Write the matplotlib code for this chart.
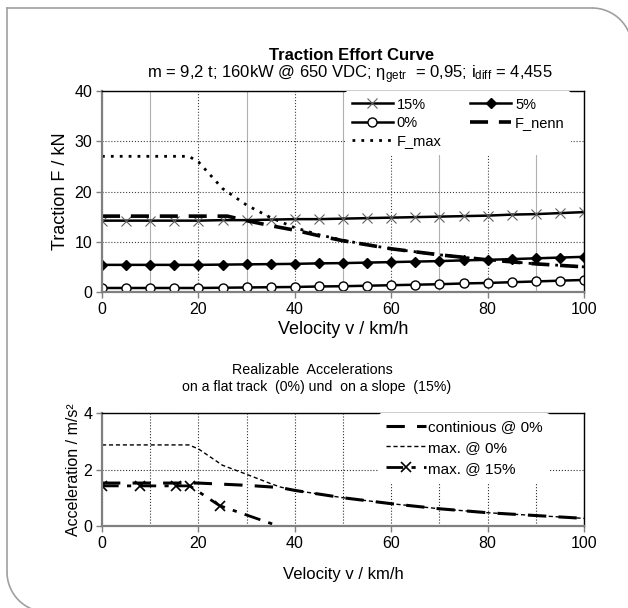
import matplotlib
matplotlib.use("Agg")
import matplotlib.pyplot as plt
from matplotlib.patches import Arc
from matplotlib.ticker import MultipleLocator

plt.rcParams['font.family'] = ['Liberation Sans', 'DejaVu Sans']
plt.rcParams['mathtext.fontset'] = 'custom'
plt.rcParams['mathtext.rm'] = 'Liberation Sans'
plt.rcParams['mathtext.it'] = 'Liberation Sans:italic'
plt.rcParams['mathtext.bf'] = 'Liberation Sans:bold'

# --- traction effort data (kN) ---
v_grade = [0, 5, 10, 15, 20, 25, 30, 35, 40, 45, 50, 55, 60, 65, 70, 75, 80, 85, 90, 95, 100]
f_15 = [14.2, 14.2, 14.2, 14.2, 14.2, 14.3, 14.3, 14.4, 14.5, 14.5, 14.6, 14.7, 14.8, 14.9,
        15.0, 15.1, 15.2, 15.4, 15.5, 15.7, 15.9]
f_5 = [5.4, 5.4, 5.4, 5.4, 5.4, 5.45, 5.5, 5.55, 5.6, 5.7, 5.75, 5.85, 5.95, 6.05,
       6.15, 6.3, 6.4, 6.55, 6.7, 6.85, 7.0]
f_0 = [0.8, 0.8, 0.8, 0.8, 0.8, 0.85, 0.9, 0.95, 1.0, 1.1, 1.15, 1.25, 1.35, 1.45,
       1.55, 1.7, 1.8, 1.95, 2.1, 2.25, 2.4]

v_nenn = [0, 26, 30, 35, 40, 45, 50, 55, 60, 65, 70, 75, 80, 85, 90, 95, 100]
f_nenn = [15.1, 15.1, 14.2, 13.2, 12.3, 11.2, 10.2, 9.4, 8.6, 8.0, 7.4, 6.9, 6.4, 6.0, 5.6, 5.3, 5.0]

v_max = [0, 18, 20, 25, 30, 35, 40, 45, 50, 55, 60, 65, 70, 75, 80, 85, 90, 95, 100]
f_max = [27, 27, 25.9, 20.6, 17.3, 14.8, 12.8, 11.4, 10.3, 9.4, 8.6, 8.0, 7.4, 6.9, 6.4, 6.0, 5.6, 5.3, 5.0]

# --- acceleration data (m/s^2) ---
v_cont = [0, 20, 30, 37, 40, 50, 60, 70, 80, 90, 100]
a_cont = [1.52, 1.52, 1.44, 1.36, 1.26, 1.0, 0.79, 0.61, 0.47, 0.37, 0.27]

v_amax0 = [0, 18, 20, 25, 30, 35, 37, 40, 50, 60, 70, 80, 90, 100]
a_max0 = [2.87, 2.87, 2.73, 2.15, 1.83, 1.5, 1.38, 1.26, 1.0, 0.79, 0.61, 0.47, 0.37, 0.27]

v_amax15 = [0, 7.8, 15.4, 18.2, 24.4, 42]
a_max15 = [1.42, 1.42, 1.42, 1.42, 0.72, -0.32]

W, H = 628, 608
fig = plt.figure(figsize=(W / 100, H / 100), dpi=100)

# background frame drawn on a full-figure pixel canvas
bg = fig.add_axes([0, 0, 1, 1])
bg.set_xlim(0, W)
bg.set_ylim(H, 0)
bg.axis('off')
r = 40
xl, yt, xr, yb = 7, 8, 632, 612
frame_kw = dict(color='#a0a0a0', lw=1.2)
bg.plot([xl, xr - r], [yt, yt], **frame_kw)
bg.plot([xl, xl], [yt, yb - r], **frame_kw)
bg.add_patch(Arc((xr - r, yt + r), 2 * r, 2 * r, theta1=270, theta2=360, edgecolor='#a0a0a0', lw=1.2))
bg.add_patch(Arc((xl + r, yb - r), 2 * r, 2 * r, theta1=90, theta2=180, edgecolor='#a0a0a0', lw=1.2))


def ax_rect(l, t, r, b):
    return [l / W, 1 - b / H, (r - l) / W, (b - t) / H]


def style_axes(ax):
    for s in ['top', 'right']:
        ax.spines[s].set_color('black')
        ax.spines[s].set_linewidth(1.0)
    for s in ['left', 'bottom']:
        ax.spines[s].set_color('#808080')
        ax.spines[s].set_linewidth(1.6)
    ax.tick_params(direction='out', length=4, width=1, color='#808080', labelsize=11.5, pad=3)
    ax.set_xlim(0, 100)
    ax.xaxis.set_major_locator(MultipleLocator(20))


def white_legend(leg):
    fr = leg.get_frame()
    fr.set_facecolor('white')
    fr.set_edgecolor('none')
    fr.set_alpha(1)


# top chart
ax1 = fig.add_axes(ax_rect(102, 91, 584, 292))
style_axes(ax1)
ax1.set_ylim(0, 40)
ax1.yaxis.set_major_locator(MultipleLocator(10))
ax1.xaxis.set_minor_locator(MultipleLocator(10))
ax1.tick_params(which='minor', length=0)
ax1.grid(True, which='major', axis='both', color='#404040', linestyle=':', linewidth=0.8)
ax1.grid(True, which='minor', axis='x', color='#b0b0b0', linestyle='-', linewidth=0.8)
ax1.set_axisbelow(True)

l15, = ax1.plot(v_grade, f_15, color='black', lw=1.8, marker='x', ms=7, mec='#606060', mew=0.8, label='15%')
l5, = ax1.plot(v_grade, f_5, color='black', lw=1.8, marker='D', ms=5.5, label='5%')
l0, = ax1.plot(v_grade, f_0, color='black', lw=1.8, marker='o', ms=6.5, mfc='white', mec='black', mew=1, label='0%')
ln, = ax1.plot(v_nenn, f_nenn, color='black', lw=2.6, dashes=(5, 3), label='F_nenn')
lm, = ax1.plot(v_max, f_max, color='black', lw=2.0, dashes=(1, 2.2), label='F_max')

leg1 = ax1.legend([l15, l0, lm, l5, ln], ['15%', '0%', 'F_max', '5%', 'F_nenn'],
                  ncol=2, loc='upper left', bbox_to_anchor=(0.505, 1.0), frameon=True,
                  fontsize=10.5, handlelength=2.8, handletextpad=0.25, columnspacing=2.0,
                  labelspacing=0.3, borderaxespad=0.0, borderpad=0.45)
white_legend(leg1)

ax1.set_xlabel('Velocity v / km/h', fontsize=13, labelpad=3)
ax1.set_ylabel('Traction F / kN', fontsize=13, labelpad=4)

fig.text(352 / W, 1 - 56 / H, 'Traction Effort Curve', ha='center', va='center',
         fontsize=12, fontweight='bold')
fig.text(350 / W, 1 - 75 / H,
         r'm = 9,2 t; 160kW @ 650 VDC; $\mathregular{\eta_{getr}}$  = 0,95; $\mathregular{i_{diff}}$ = 4,455',
         ha='center', va='center', fontsize=12)

# bottom chart
ax2 = fig.add_axes(ax_rect(102, 413, 584, 526))
style_axes(ax2)
ax2.set_ylim(0, 4)
ax2.yaxis.set_major_locator(MultipleLocator(2))
ax2.xaxis.set_minor_locator(MultipleLocator(10))
ax2.tick_params(which='minor', length=0)
ax2.grid(True, which='major', axis='y', color='#303030', linestyle=':', linewidth=0.8)
ax2.grid(True, which='both', axis='x', color='#303030', linestyle=':', linewidth=0.8)
ax2.set_axisbelow(True)

ax2.plot(v_cont, a_cont, color='black', lw=2.2, dashes=(6, 4), label='continious @ 0%')
ax2.plot(v_amax0, a_max0, color='black', lw=1.0, dashes=(3, 2), label='max. @ 0%')
ax2.plot(v_amax15, a_max15, color='black', lw=2.0, dashes=(6, 3, 1.5, 3), marker='x', ms=7,
         mew=1.2, label='max. @ 15%')

leg2 = ax2.legend(loc='upper left', bbox_to_anchor=(0.575, 1.0), frameon=True, fontsize=11,
                  handlelength=2.6, handletextpad=0.15, labelspacing=0.45, borderaxespad=0.0,
                  borderpad=0.45)
white_legend(leg2)

ax2.set_xlabel('Velocity v / km/h', fontsize=12, labelpad=12)
ax2.set_ylabel('Acceleration / m/s²', fontsize=11.5, labelpad=2)

fig.text(312 / W, 1 - 370 / H, 'Realizable  Accelerations', ha='center', va='center', fontsize=10.3)
fig.text(317 / W, 1 - 387 / H, 'on a flat track  (0%) und  on a slope  (15%)', ha='center',
         va='center', fontsize=10.2)

plt.savefig('out.png', dpi=100)
